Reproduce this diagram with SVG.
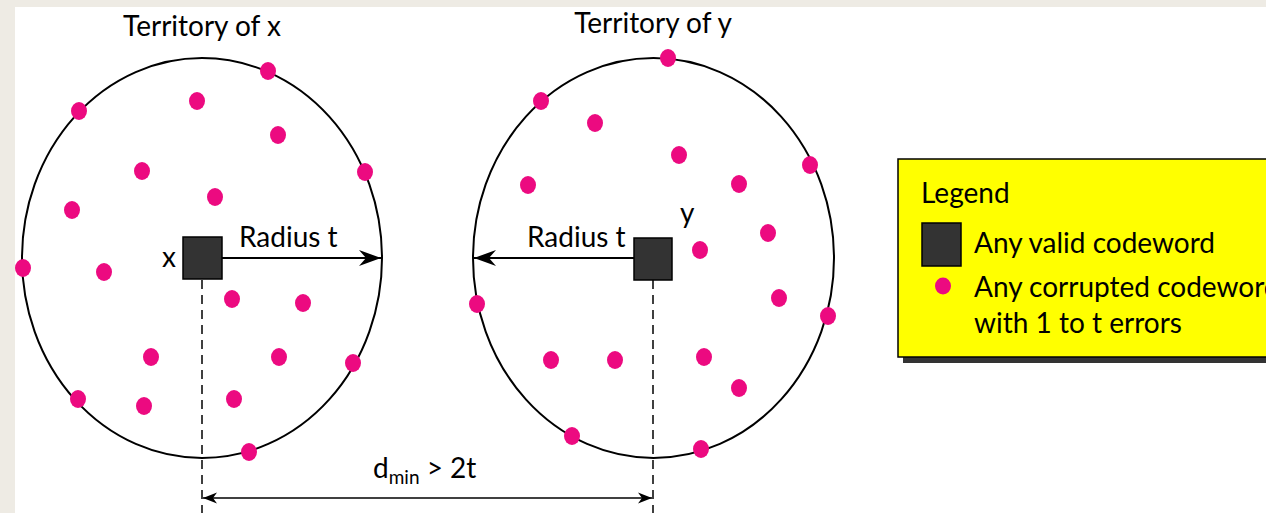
<svg xmlns="http://www.w3.org/2000/svg" width="1266" height="513" viewBox="0 0 1266 513">
<style>
.t{font-family:Lato,"Liberation Sans",sans-serif;font-size:28px;fill:#000}
.dot{fill:#EC0A80}
.ring{fill:none;stroke:#000;stroke-width:2}
.cw{fill:#333;stroke:#000;stroke-width:1.5}
.ln{stroke:#000;stroke-width:2;fill:none}
.dash{stroke:#000;stroke-width:1.5;stroke-dasharray:9 6;fill:none}
</style>
<defs>
<marker id="ah" markerUnits="userSpaceOnUse" markerWidth="30" markerHeight="20" viewBox="-24 -10 26 20" refX="0" refY="0" orient="auto">
<path d="M0,0 L-22,-8 L-15,0 L-22,8 Z" fill="#000"/>
</marker>
<marker id="as" markerUnits="userSpaceOnUse" markerWidth="20" markerHeight="14" viewBox="-16 -7 18 14" refX="0" refY="0" orient="auto-start-reverse">
<path d="M0,0 L-14,-5.5 L-10,0 L-14,5.5 Z" fill="#000"/>
</marker>
</defs>
<rect x="0" y="0" width="1266" height="513" fill="#EEEBE4"/>
<rect x="15" y="7" width="1251" height="506" fill="#fff"/>

<g id="territory-x">
<ellipse class="ring" cx="202" cy="258" rx="180" ry="200"/>
<text class="t" x="202" y="36" text-anchor="middle">Territory of x</text>
</g>
<g id="territory-y">
<ellipse class="ring" cx="653.5" cy="258" rx="180.5" ry="200"/>
<text class="t" x="653" y="33" text-anchor="middle">Territory of y</text>
</g>

<g id="dots-x">
<ellipse class="dot" cx="268" cy="71" rx="8" ry="9"/>
<ellipse class="dot" cx="79" cy="111" rx="8" ry="9"/>
<ellipse class="dot" cx="197" cy="101" rx="8" ry="9"/>
<ellipse class="dot" cx="278" cy="135" rx="8" ry="9"/>
<ellipse class="dot" cx="142" cy="171" rx="8" ry="9"/>
<ellipse class="dot" cx="365" cy="172" rx="8" ry="9"/>
<ellipse class="dot" cx="215" cy="197" rx="8" ry="9"/>
<ellipse class="dot" cx="72" cy="210" rx="8" ry="9"/>
<ellipse class="dot" cx="23" cy="268" rx="8" ry="9"/>
<ellipse class="dot" cx="104" cy="272" rx="8" ry="9"/>
<ellipse class="dot" cx="232" cy="299" rx="8" ry="9"/>
<ellipse class="dot" cx="303" cy="303" rx="8" ry="9"/>
<ellipse class="dot" cx="151" cy="357" rx="8" ry="9"/>
<ellipse class="dot" cx="279" cy="357" rx="8" ry="9"/>
<ellipse class="dot" cx="353" cy="363" rx="8" ry="9"/>
<ellipse class="dot" cx="78" cy="399" rx="8" ry="9"/>
<ellipse class="dot" cx="144" cy="406" rx="8" ry="9"/>
<ellipse class="dot" cx="234" cy="399" rx="8" ry="9"/>
<ellipse class="dot" cx="249" cy="452" rx="8" ry="9"/>
</g>
<g id="dots-y">
<ellipse class="dot" cx="668" cy="58" rx="8" ry="9"/>
<ellipse class="dot" cx="541" cy="101" rx="8" ry="9"/>
<ellipse class="dot" cx="595" cy="123" rx="8" ry="9"/>
<ellipse class="dot" cx="679" cy="155" rx="8" ry="9"/>
<ellipse class="dot" cx="810" cy="165" rx="8" ry="9"/>
<ellipse class="dot" cx="528" cy="185" rx="8" ry="9"/>
<ellipse class="dot" cx="739" cy="184" rx="8" ry="9"/>
<ellipse class="dot" cx="768" cy="233" rx="8" ry="9"/>
<ellipse class="dot" cx="700" cy="250" rx="8" ry="9"/>
<ellipse class="dot" cx="477" cy="304" rx="8" ry="9"/>
<ellipse class="dot" cx="779" cy="298" rx="8" ry="9"/>
<ellipse class="dot" cx="828" cy="316" rx="8" ry="9"/>
<ellipse class="dot" cx="551" cy="360" rx="8" ry="9"/>
<ellipse class="dot" cx="615" cy="360" rx="8" ry="9"/>
<ellipse class="dot" cx="704" cy="357" rx="8" ry="9"/>
<ellipse class="dot" cx="739" cy="388" rx="8" ry="9"/>
<ellipse class="dot" cx="572" cy="436" rx="8" ry="9"/>
<ellipse class="dot" cx="701" cy="449" rx="8" ry="9"/>
</g>

<g id="connectors">
<line class="ln" x1="222" y1="258" x2="381" y2="258" marker-end="url(#ah)"/>
<line class="ln" x1="634" y1="258" x2="474" y2="258" marker-end="url(#ah)"/>
<line class="dash" x1="202" y1="280" x2="202" y2="513"/>
<line class="dash" x1="653" y1="280" x2="653" y2="513"/>
<line x1="203" y1="498" x2="652" y2="498" stroke="#000" stroke-width="1.5" marker-start="url(#as)" marker-end="url(#as)"/>
</g>

<g id="codeword-x">
<rect class="cw" x="183" y="237" width="39" height="42"/>
<text class="t" x="169" y="267" text-anchor="middle">x</text>
<text class="t" x="239" y="247">Radius t</text>
</g>
<g id="codeword-y">
<rect class="cw" x="634" y="238" width="38" height="42"/>
<text class="t" x="680" y="223">y</text>
<text class="t" x="527" y="247">Radius t</text>
</g>

<g id="dmin-label">
<text class="t" x="373" y="478">d<tspan font-size="19" dy="6">min</tspan><tspan dy="-6"> &gt; 2t</tspan></text>
</g>

<g id="legend">
<rect x="903" y="164" width="370" height="199" fill="#333"/>
<rect x="898" y="159" width="375" height="198" fill="#FFFF00" stroke="#000" stroke-width="1.5"/>
<text class="t" x="921" y="203">Legend</text>
<rect class="cw" x="922" y="223" width="39" height="43"/>
<text class="t" x="974" y="253">Any valid codeword</text>
<ellipse class="dot" cx="943" cy="286" rx="8" ry="8.5"/>
<text class="t" x="974" y="297">Any corrupted codeword</text>
<text class="t" x="974" y="333">with 1 to t errors</text>
</g>
</svg>
